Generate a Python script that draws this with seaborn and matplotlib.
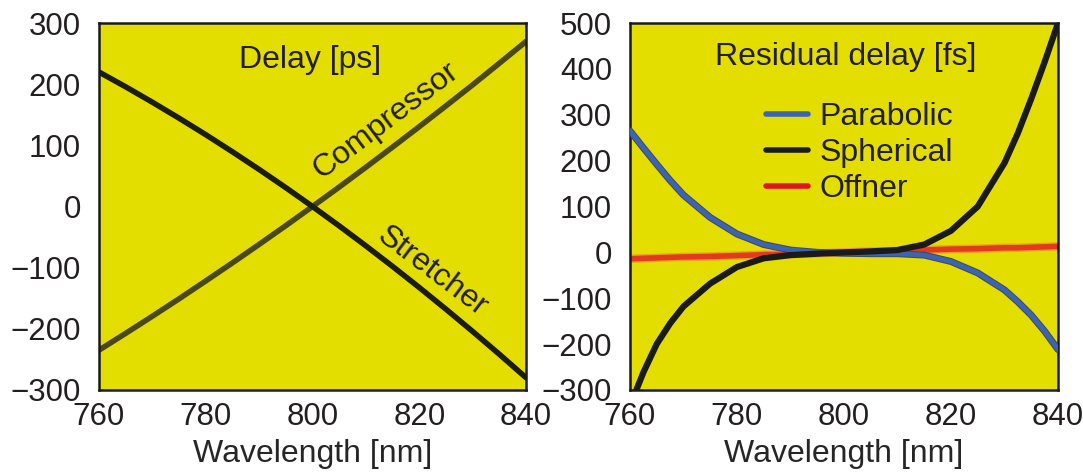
import matplotlib
matplotlib.use("Agg")
import matplotlib.pyplot as plt
import matplotlib.patheffects as pe
import pandas as pd
import seaborn as sns

sns.set_theme(style="white")
plt.rcParams['font.family'] = ['Liberation Sans', 'DejaVu Sans']
plt.rcParams['text.color'] = '#231f20'

# left panel: delay [ps]
wl_left = [760, 765, 770, 775, 780, 785, 790, 795, 800, 805, 810, 815, 820, 825, 830, 835, 840]
stretcher = [220, 195.8, 170.6, 144.5, 117.5, 89.5, 60.6, 30.8, 0,
             -31.7, -64.4, -98, -132.5, -168, -204.4, -241.7, -280]
compressor = [-235, -207.5, -179.5, -151, -121.8, -92.2, -62, -31.3, 0,
              31.8, 64.2, 97.2, 130.6, 164.6, 199, 234.3, 270]

# right panel: residual delay [fs]
wl_right = [760, 762.5, 765, 767.5, 770, 775, 780, 785, 790, 795, 800, 805, 810, 815,
            820, 825, 830, 832.5, 835, 837.5, 840]
parabolic = [265, 228, 192, 157, 125, 76, 40, 17, 5, 0, -2, -3, -3, -6,
             -20, -45, -82, -108, -137, -172, -212]
spherical = [-335, -262, -200, -155, -118, -68, -32, -13, -6, -3, 0, 2, 5, 17,
             47, 100, 195, 260, 335, 415, 500]
offner = [-14, -13, -12, -11, -10, -9, -7, -5, -4, -2, 0, 2, 3, 5,
          7, 8, 10, 10, 11, 12, 13]

left_df = pd.DataFrame({'wl': wl_left, 'Stretcher': stretcher, 'Compressor': compressor})
right_df = pd.DataFrame({'wl': wl_right, 'Parabolic': parabolic,
                         'Spherical': spherical, 'Offner': offner})

bg = '#e4de00'
fs = 23
tfs = 22.5

fig = plt.figure(figsize=(10.83, 4.72), dpi=100)
ax1 = fig.add_axes([0.0914, 0.174, 0.3943, 0.777])
ax2 = fig.add_axes([0.5817, 0.174, 0.3952, 0.777])

for ax in (ax1, ax2):
    ax.set_facecolor(bg)
    ax.set_xlim(760, 840)
    ax.set_xticks([760, 780, 800, 820, 840])
    ax.tick_params(labelsize=tfs, length=0, colors='#231f20')
    ax.tick_params(axis='x', pad=9)
    ax.tick_params(axis='y', pad=13)
    for s in ax.spines.values():
        s.set_color('#1a1a1a')
        s.set_linewidth(1.8)

# left
sns.lineplot(data=left_df, x='wl', y='Compressor', ax=ax1, color='#4a4818', lw=4)
sns.lineplot(data=left_df, x='wl', y='Stretcher', ax=ax1, color='#1c1c10', lw=4)
ax1.set_ylim(-300, 300)
ax1.set_yticks(range(-300, 301, 100))
ax1.set_xlabel('Wavelength [nm]', fontsize=fs, labelpad=5)
ax1.set_ylabel('')
ax1.text(0.494, 0.899, 'Delay [ps]', transform=ax1.transAxes, ha='center', va='center', fontsize=fs)
ax1.text(813.8, 141, 'Compressor', rotation=37, ha='center', va='center', fontsize=fs,
         rotation_mode='anchor')
ax1.text(822.4, -107, 'Stretcher', rotation=-37, ha='center', va='center', fontsize=fs,
         rotation_mode='anchor')

# right
sns.lineplot(data=right_df, x='wl', y='Offner', ax=ax2, color='#e23a1c', lw=4, zorder=2,
             path_effects=[pe.Stroke(linewidth=6, foreground='#eea020'), pe.Normal()])
sns.lineplot(data=right_df, x='wl', y='Parabolic', ax=ax2, color='#3e64b0', lw=3.5, zorder=3,
             path_effects=[pe.Stroke(linewidth=5, foreground='#3a4a6a'), pe.Normal()])
sns.lineplot(data=right_df, x='wl', y='Spherical', ax=ax2, color='#1a1a1a', lw=4.5, zorder=4)
ax2.set_ylim(-300, 500)
ax2.set_yticks(range(-300, 501, 100))
ax2.set_xlabel('Wavelength [nm]', fontsize=fs, labelpad=5)
ax2.set_ylabel('')
ax2.text(0.504, 0.907, 'Residual delay [fs]', transform=ax2.transAxes, ha='center', va='center',
         fontsize=fs)

handles = [plt.Line2D([], [], color='#3e64b0', lw=4),
           plt.Line2D([], [], color='#1a1a1a', lw=4),
           plt.Line2D([], [], color='#e0141e', lw=4)]
ax2.legend(handles, ['Parabolic', 'Spherical', 'Offner'], loc='upper left',
           bbox_to_anchor=(0.3185, 0.785), frameon=False, fontsize=fs,
           handlelength=1.3, handletextpad=0.37, labelspacing=0.19, borderpad=0,
           borderaxespad=0)

fig.savefig('out.png', dpi=100)
